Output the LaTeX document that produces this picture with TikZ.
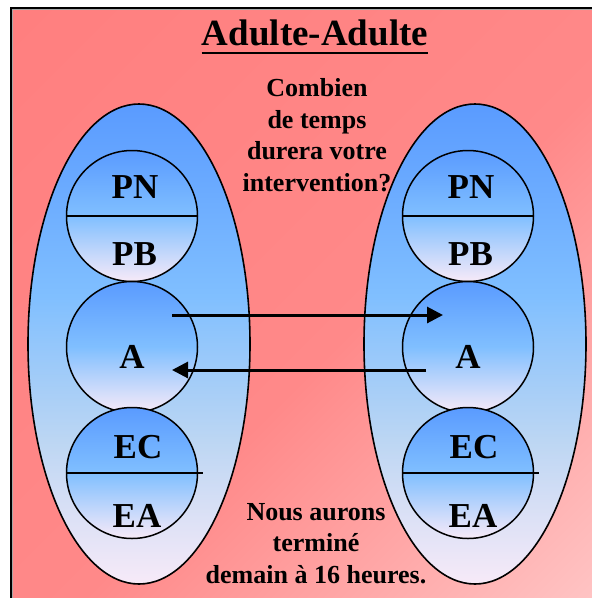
\documentclass[tikz,border=0pt]{standalone}
\usepackage{fontspec}
\setmainfont{Liberation Serif}
\usetikzlibrary{shapes.geometric,arrows.meta,calc}

% palette
\definecolor{bgA}{HTML}{FF7F7F}
\definecolor{bgB}{HTML}{FF8989}
\definecolor{bgC}{HTML}{FFC8C8}
\definecolor{blueTop}{HTML}{5A9BFF}
\definecolor{blueMid}{HTML}{80BFFF}
\definecolor{blueLow}{HTML}{BCD6F3}
\definecolor{lavender}{HTML}{F7EAF8}

% diagonal pink background
\pgfdeclarehorizontalshading{redbg}{100bp}{color(0bp)=(bgA); color(15bp)=(bgA);
  color(53bp)=(bgB); color(85bp)=(bgC); color(100bp)=(bgC)}
% tall ovals: blue at the top, lavender at the bottom
\pgfdeclareverticalshading{ovalshade}{100bp}{color(0bp)=(lavender); color(25bp)=(lavender);
  color(40bp)=(blueLow); color(55bp)=(blueMid); color(75bp)=(blueTop); color(100bp)=(blueTop)}
% ego-state circles
\pgfdeclareverticalshading{egoshade}{100bp}{color(0bp)=(lavender); color(25bp)=(lavender);
  color(50bp)=(blueMid); color(75bp)=(blueTop); color(100bp)=(blueTop)}

\tikzset{
  oval/.style={ellipse, draw, line width=1.6pt, shading=ovalshade,
    minimum width=222pt, minimum height=480pt, inner sep=0pt},
  ego/.style={circle, draw, line width=1.5pt, shading=egoshade,
    minimum size=131pt, inner sep=0pt},
  lbl/.style={font=\fontsize{35}{40}\selectfont\bfseries, inner sep=0pt, anchor=base},
  talk/.style={font=\fontsize{26}{31.5}\selectfont\bfseries, align=center, inner sep=0pt},
  divider/.style={line width=1.5pt},
  flow/.style={line width=3pt, -{Triangle[length=16pt,width=16pt]}}
}

\begin{document}
\begin{tikzpicture}[x=1pt,y=-1pt]
\useasboundingbox (0,0) rectangle (592,598);
\fill[white] (0,0) rectangle (592,598);
\path[shading=redbg, shading angle=-45] (11,8) rectangle (620,620);
\draw[black!35, line width=3pt] (11,620) -- (11,8) -- (620,8);
\draw[line width=1.8pt] (11,620) -- (11,8) -- (620,8);

% title
\node[font=\fontsize{37}{40}\selectfont\bfseries, inner sep=0pt, anchor=base] (title) at (315,45) {Adulte-Adulte};
\draw[line width=2.5pt] ($(title.base west)+(0,8)$) -- ($(title.base east)+(0,8)$);

% the two persons
\node[oval] (left) at (139,344) {};
\node[oval] (right) at (475,344) {};

% ego states, left
\node[ego] (pL) at (132,216) {};
\node[ego] (aL) at (132,347) {};
\node[ego] (eL) at (132,473) {};
% ego states, right
\node[ego] (pR) at (468,216) {};
\node[ego] (aR) at (468,347) {};
\node[ego] (eR) at (468,473) {};

% dividers
\draw[divider] (pL.west) -- (pL.east);
\draw[divider] (pR.west) -- (pR.east);
\draw[divider] (eL.west) -- ($(eL.east)+(5,0)$);
\draw[divider] (eR.west) -- ($(eR.east)+(5,0)$);

% labels
\node[lbl] (pnL) at (135,198) {PN};
\node[lbl] (pbL) at (134.5,265) {PB};
\node[lbl] (adL) at (132,368) {A};
\node[lbl] (ecL) at (138,458) {EC};
\node[lbl] (eaL) at (137,527) {EA};
\node[lbl] (pnR) at (471,198) {PN};
\node[lbl] (pbR) at (470.5,265) {PB};
\node[lbl] (adR) at (468,368) {A};
\node[lbl] (ecR) at (474,458) {EC};
\node[lbl] (eaR) at (473,527) {EA};

% exchange (base = baseline of the last line)
\node[talk, anchor=base] (question) at (317,191) {Combien\\de temps\\durera votre\\intervention?};
\node[talk, anchor=base] (answer) at (316,583) {Nous aurons\\terminé\\demain à 16 heures.};

\draw[flow] ($(aL.center)+(40,-32)$) -- ($(aR.center)+(-25,-32)$);
\draw[flow] ($(aR.center)+(-42,23)$) -- ($(aL.center)+(40,23)$);
\end{tikzpicture}
\end{document}
